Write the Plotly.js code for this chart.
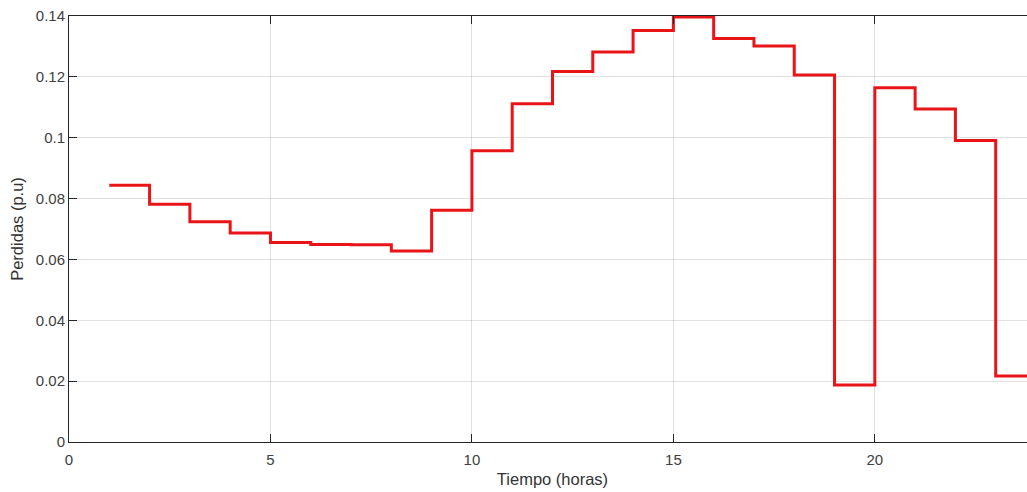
<!DOCTYPE html>
<html>
<head>
<meta charset="utf-8">
<script src="https://cdn.plot.ly/plotly-3.0.1.min.js"></script>
<style>
html, body { margin: 0; padding: 0; overflow: hidden; background: #fff; }
#chart { width: 1040px; height: 492px; }
</style>
</head>
<body>
<div id="chart"></div>
<script>
// Hour at which each step starts (hour 24 only closes the last step)
const horas = [1, 2, 3, 4, 5, 6, 7, 8, 9, 10, 11, 12, 13, 14, 15, 16, 17, 18, 19, 20, 21, 22, 23, 24];
// Losses (p.u) for each hour
const perdidas = [0.0844, 0.0781, 0.0724, 0.0687, 0.0656, 0.0649, 0.0648, 0.0628, 0.0762, 0.0957,
                  0.1112, 0.1218, 0.1282, 0.1352, 0.1397, 0.1326, 0.1301, 0.1206, 0.0187, 0.1164,
                  0.1094, 0.0991, 0.0217, 0.0217];
const xTicks = [0, 5, 10, 15, 20];
const yTicks = [0, 0.02, 0.04, 0.06, 0.08, 0.1, 0.12, 0.14];
const yTickText = ['0', '0.02', '0.04', '0.06', '0.08', '0.1', '0.12', '0.14'];

const trace = {
  x: horas,
  y: perdidas,
  type: 'scatter',
  mode: 'lines',
  line: { shape: 'hv', color: 'rgb(232,20,24)', width: 3 },
  hoverinfo: 'x+y',
  cliponaxis: false
};

const FONT = 'Liberation Sans, Arial, sans-serif';

const axisCommon = {
  showline: true,
  linecolor: '#262626',
  linewidth: 1,
  mirror: 'ticks',
  ticks: 'inside',
  ticklen: 8,
  tickcolor: '#262626',
  tickwidth: 1,
  showgrid: true,
  gridcolor: 'rgba(0,0,0,0.12)',
  gridwidth: 1,
  zeroline: false,
  tickfont: { family: FONT, size: 15, color: '#404040' }
};

const layout = {
  width: 1040,
  height: 492,
  margin: { l: 69, r: 4, t: 16, b: 50 },
  paper_bgcolor: '#ffffff',
  plot_bgcolor: '#ffffff',
  showlegend: false,
  xaxis: Object.assign({}, axisCommon, {
    range: [0, 24],
    tickvals: xTicks,
    ticktext: xTicks.map(String),
    ticklabelstandoff: 4,
    title: { text: 'Tiempo (horas)', font: { family: FONT, size: 16.5, color: '#333' }, standoff: 6 }
  }),
  yaxis: Object.assign({}, axisCommon, {
    range: [0, 0.14],
    tickvals: yTicks,
    ticktext: yTickText,
    title: { text: 'Perdidas (p.u)', font: { family: FONT, size: 16.5, color: '#333' }, standoff: 8 }
  })
};

Plotly.newPlot('chart', [trace], layout, { displayModeBar: false, staticPlot: true });
</script>
</body>
</html>
